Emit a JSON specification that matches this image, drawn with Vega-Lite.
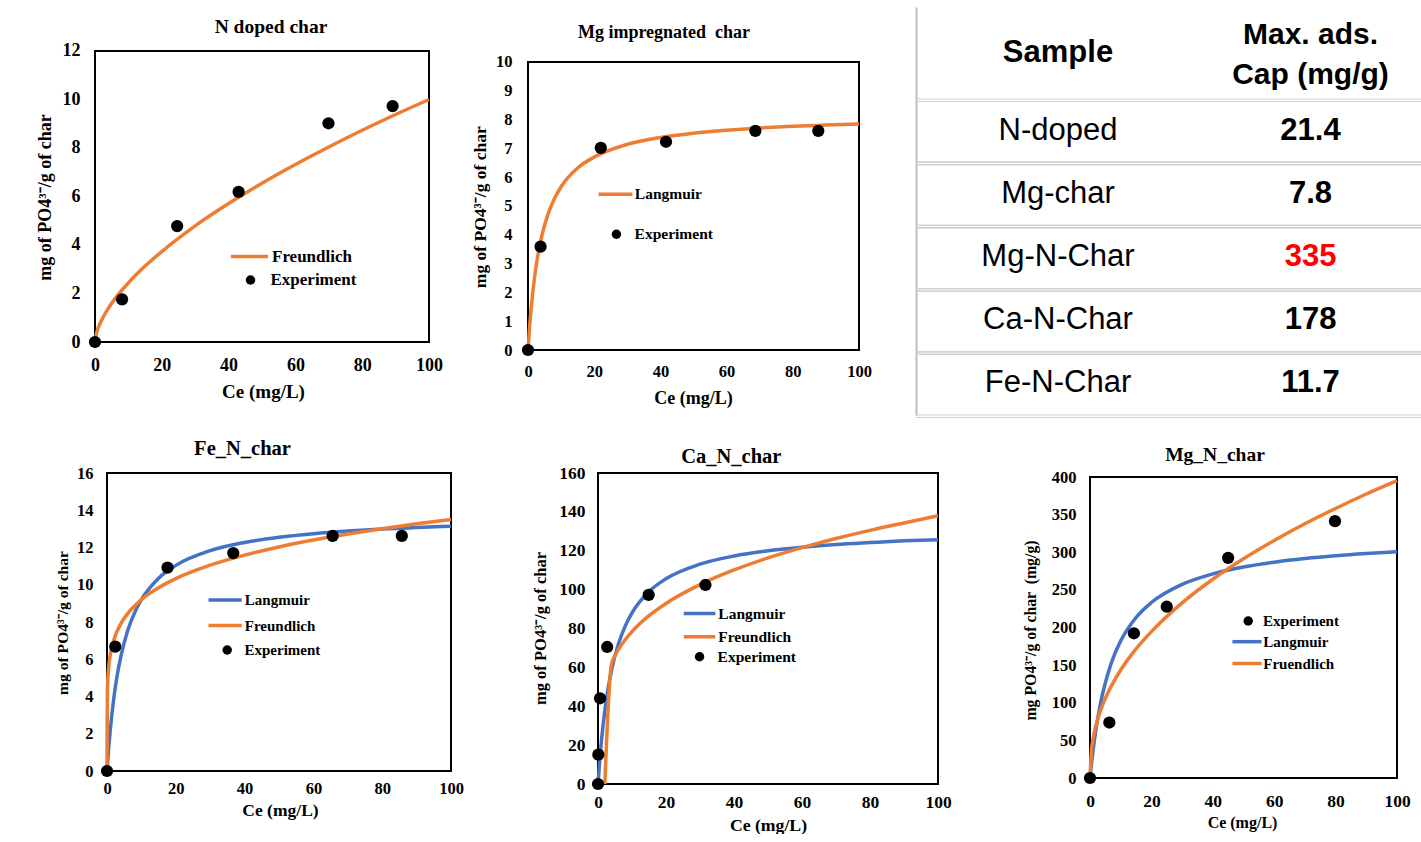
{
  "$schema": "https://vega.github.io/schema/vega-lite/v6.json",
  "background": "white",
  "padding": {"left": 0, "top": 7, "right": 0, "bottom": 0},
  "autosize": {"type": "pad"},
  "datasets": {
    "curves": [
      {"panel":"N","model":"Freundlich","Ce":0,"q":0},
      {"panel":"N","model":"Freundlich","Ce":0.5,"q":0.39},
      {"panel":"N","model":"Freundlich","Ce":1,"q":0.6},
      {"panel":"N","model":"Freundlich","Ce":2,"q":0.91},
      {"panel":"N","model":"Freundlich","Ce":4,"q":1.39},
      {"panel":"N","model":"Freundlich","Ce":6,"q":1.79},
      {"panel":"N","model":"Freundlich","Ce":10,"q":2.44},
      {"panel":"N","model":"Freundlich","Ce":15,"q":3.13},
      {"panel":"N","model":"Freundlich","Ce":20,"q":3.73},
      {"panel":"N","model":"Freundlich","Ce":30,"q":4.79},
      {"panel":"N","model":"Freundlich","Ce":40,"q":5.71},
      {"panel":"N","model":"Freundlich","Ce":50,"q":6.55},
      {"panel":"N","model":"Freundlich","Ce":60,"q":7.32},
      {"panel":"N","model":"Freundlich","Ce":70,"q":8.04},
      {"panel":"N","model":"Freundlich","Ce":80,"q":8.73},
      {"panel":"N","model":"Freundlich","Ce":90,"q":9.38},
      {"panel":"N","model":"Freundlich","Ce":100,"q":10.0},
      {"panel":"Mg","model":"Langmuir","Ce":0,"q":0},
      {"panel":"Mg","model":"Langmuir","Ce":0.5,"q":0.83},
      {"panel":"Mg","model":"Langmuir","Ce":1,"q":1.5},
      {"panel":"Mg","model":"Langmuir","Ce":2,"q":2.54},
      {"panel":"Mg","model":"Langmuir","Ce":3,"q":3.3},
      {"panel":"Mg","model":"Langmuir","Ce":4,"q":3.88},
      {"panel":"Mg","model":"Langmuir","Ce":6,"q":4.7},
      {"panel":"Mg","model":"Langmuir","Ce":8,"q":5.26},
      {"panel":"Mg","model":"Langmuir","Ce":10,"q":5.67},
      {"panel":"Mg","model":"Langmuir","Ce":15,"q":6.32},
      {"panel":"Mg","model":"Langmuir","Ce":20,"q":6.7},
      {"panel":"Mg","model":"Langmuir","Ce":30,"q":7.14},
      {"panel":"Mg","model":"Langmuir","Ce":40,"q":7.38},
      {"panel":"Mg","model":"Langmuir","Ce":50,"q":7.53},
      {"panel":"Mg","model":"Langmuir","Ce":60,"q":7.63},
      {"panel":"Mg","model":"Langmuir","Ce":70,"q":7.71},
      {"panel":"Mg","model":"Langmuir","Ce":80,"q":7.77},
      {"panel":"Mg","model":"Langmuir","Ce":90,"q":7.81},
      {"panel":"Mg","model":"Langmuir","Ce":100,"q":7.85},
      {"panel":"Fe","model":"Langmuir","Ce":0,"q":0},
      {"panel":"Fe","model":"Langmuir","Ce":0.5,"q":1.25},
      {"panel":"Fe","model":"Langmuir","Ce":1,"q":2.3},
      {"panel":"Fe","model":"Langmuir","Ce":2,"q":3.94},
      {"panel":"Fe","model":"Langmuir","Ce":3,"q":5.18},
      {"panel":"Fe","model":"Langmuir","Ce":4,"q":6.13},
      {"panel":"Fe","model":"Langmuir","Ce":6,"q":7.53},
      {"panel":"Fe","model":"Langmuir","Ce":8,"q":8.49},
      {"panel":"Fe","model":"Langmuir","Ce":10,"q":9.2},
      {"panel":"Fe","model":"Langmuir","Ce":15,"q":10.35},
      {"panel":"Fe","model":"Langmuir","Ce":20,"q":11.04},
      {"panel":"Fe","model":"Langmuir","Ce":30,"q":11.83},
      {"panel":"Fe","model":"Langmuir","Ce":40,"q":12.27},
      {"panel":"Fe","model":"Langmuir","Ce":50,"q":12.55},
      {"panel":"Fe","model":"Langmuir","Ce":60,"q":12.74},
      {"panel":"Fe","model":"Langmuir","Ce":70,"q":12.88},
      {"panel":"Fe","model":"Langmuir","Ce":80,"q":12.99},
      {"panel":"Fe","model":"Langmuir","Ce":90,"q":13.07},
      {"panel":"Fe","model":"Langmuir","Ce":100,"q":13.14},
      {"panel":"Fe","model":"Freundlich","Ce":0,"q":0},
      {"panel":"Fe","model":"Freundlich","Ce":0.1,"q":4.28},
      {"panel":"Fe","model":"Freundlich","Ce":0.5,"q":5.59},
      {"panel":"Fe","model":"Freundlich","Ce":1,"q":6.27},
      {"panel":"Fe","model":"Freundlich","Ce":2,"q":7.04},
      {"panel":"Fe","model":"Freundlich","Ce":4,"q":7.9},
      {"panel":"Fe","model":"Freundlich","Ce":6,"q":8.45},
      {"panel":"Fe","model":"Freundlich","Ce":10,"q":9.2},
      {"panel":"Fe","model":"Freundlich","Ce":15,"q":9.84},
      {"panel":"Fe","model":"Freundlich","Ce":20,"q":10.33},
      {"panel":"Fe","model":"Freundlich","Ce":30,"q":11.05},
      {"panel":"Fe","model":"Freundlich","Ce":40,"q":11.59},
      {"panel":"Fe","model":"Freundlich","Ce":50,"q":12.03},
      {"panel":"Fe","model":"Freundlich","Ce":60,"q":12.4},
      {"panel":"Fe","model":"Freundlich","Ce":70,"q":12.72},
      {"panel":"Fe","model":"Freundlich","Ce":80,"q":13.01},
      {"panel":"Fe","model":"Freundlich","Ce":90,"q":13.27},
      {"panel":"Fe","model":"Freundlich","Ce":100,"q":13.5},
      {"panel":"Ca","model":"Langmuir","Ce":0,"q":0},
      {"panel":"Ca","model":"Langmuir","Ce":0.5,"q":12},
      {"panel":"Ca","model":"Langmuir","Ce":1,"q":22},
      {"panel":"Ca","model":"Langmuir","Ce":2,"q":37.7},
      {"panel":"Ca","model":"Langmuir","Ce":3,"q":49.5},
      {"panel":"Ca","model":"Langmuir","Ce":4,"q":58.7},
      {"panel":"Ca","model":"Langmuir","Ce":6,"q":72},
      {"panel":"Ca","model":"Langmuir","Ce":8,"q":81.2},
      {"panel":"Ca","model":"Langmuir","Ce":10,"q":88},
      {"panel":"Ca","model":"Langmuir","Ce":15,"q":99},
      {"panel":"Ca","model":"Langmuir","Ce":20,"q":105.6},
      {"panel":"Ca","model":"Langmuir","Ce":30,"q":113.1},
      {"panel":"Ca","model":"Langmuir","Ce":40,"q":117.3},
      {"panel":"Ca","model":"Langmuir","Ce":50,"q":120},
      {"panel":"Ca","model":"Langmuir","Ce":60,"q":121.8},
      {"panel":"Ca","model":"Langmuir","Ce":70,"q":123.2},
      {"panel":"Ca","model":"Langmuir","Ce":80,"q":124.2},
      {"panel":"Ca","model":"Langmuir","Ce":90,"q":125.1},
      {"panel":"Ca","model":"Langmuir","Ce":100,"q":125.7},
      {"panel":"Ca","model":"Freundlich","Ce":2,"q":0},
      {"panel":"Ca","model":"Freundlich","Ce":3.9,"q":61},
      {"panel":"Ca","model":"Freundlich","Ce":5,"q":66.1},
      {"panel":"Ca","model":"Freundlich","Ce":6,"q":69.2},
      {"panel":"Ca","model":"Freundlich","Ce":8,"q":74.2},
      {"panel":"Ca","model":"Freundlich","Ce":10,"q":78.4},
      {"panel":"Ca","model":"Freundlich","Ce":15,"q":86.6},
      {"panel":"Ca","model":"Freundlich","Ce":20,"q":92.9},
      {"panel":"Ca","model":"Freundlich","Ce":30,"q":102.6},
      {"panel":"Ca","model":"Freundlich","Ce":40,"q":110.1},
      {"panel":"Ca","model":"Freundlich","Ce":50,"q":116.3},
      {"panel":"Ca","model":"Freundlich","Ce":60,"q":121.6},
      {"panel":"Ca","model":"Freundlich","Ce":70,"q":126.3},
      {"panel":"Ca","model":"Freundlich","Ce":80,"q":130.5},
      {"panel":"Ca","model":"Freundlich","Ce":90,"q":134.3},
      {"panel":"Ca","model":"Freundlich","Ce":100,"q":138},
      {"panel":"MgN","model":"Langmuir","Ce":0,"q":0},
      {"panel":"MgN","model":"Langmuir","Ce":0.5,"q":19.6},
      {"panel":"MgN","model":"Langmuir","Ce":1,"q":36.9},
      {"panel":"MgN","model":"Langmuir","Ce":2,"q":66.2},
      {"panel":"MgN","model":"Langmuir","Ce":3,"q":90.1},
      {"panel":"MgN","model":"Langmuir","Ce":4,"q":110},
      {"panel":"MgN","model":"Langmuir","Ce":6,"q":141},
      {"panel":"MgN","model":"Langmuir","Ce":8,"q":164.2},
      {"panel":"MgN","model":"Langmuir","Ce":10,"q":182.2},
      {"panel":"MgN","model":"Langmuir","Ce":15,"q":213.3},
      {"panel":"MgN","model":"Langmuir","Ce":20,"q":233.2},
      {"panel":"MgN","model":"Langmuir","Ce":30,"q":257.3},
      {"panel":"MgN","model":"Langmuir","Ce":40,"q":271.2},
      {"panel":"MgN","model":"Langmuir","Ce":50,"q":280.4},
      {"panel":"MgN","model":"Langmuir","Ce":60,"q":286.8},
      {"panel":"MgN","model":"Langmuir","Ce":70,"q":291.6},
      {"panel":"MgN","model":"Langmuir","Ce":80,"q":295.3},
      {"panel":"MgN","model":"Langmuir","Ce":90,"q":298.2},
      {"panel":"MgN","model":"Langmuir","Ce":100,"q":300.6},
      {"panel":"MgN","model":"Fruendlich","Ce":0,"q":0},
      {"panel":"MgN","model":"Fruendlich","Ce":0.5,"q":38.4},
      {"panel":"MgN","model":"Fruendlich","Ce":1,"q":52.1},
      {"panel":"MgN","model":"Fruendlich","Ce":2,"q":70.7},
      {"panel":"MgN","model":"Fruendlich","Ce":4,"q":95.9},
      {"panel":"MgN","model":"Fruendlich","Ce":6,"q":114.6},
      {"panel":"MgN","model":"Fruendlich","Ce":10,"q":143.5},
      {"panel":"MgN","model":"Fruendlich","Ce":15,"q":171.5},
      {"panel":"MgN","model":"Fruendlich","Ce":20,"q":194.5},
      {"panel":"MgN","model":"Fruendlich","Ce":30,"q":232.7},
      {"panel":"MgN","model":"Fruendlich","Ce":40,"q":264.1},
      {"panel":"MgN","model":"Fruendlich","Ce":50,"q":291.3},
      {"panel":"MgN","model":"Fruendlich","Ce":60,"q":315.6},
      {"panel":"MgN","model":"Fruendlich","Ce":70,"q":337.8},
      {"panel":"MgN","model":"Fruendlich","Ce":80,"q":358.2},
      {"panel":"MgN","model":"Fruendlich","Ce":90,"q":377.4},
      {"panel":"MgN","model":"Fruendlich","Ce":100,"q":395.2}
    ],
    "experiment": [
      {"panel":"N","kind":"Experiment","Ce":0,"q":0},
      {"panel":"N","kind":"Experiment","Ce":8.1,"q":1.76},
      {"panel":"N","kind":"Experiment","Ce":24.6,"q":4.78},
      {"panel":"N","kind":"Experiment","Ce":43,"q":6.19},
      {"panel":"N","kind":"Experiment","Ce":69.9,"q":9.02},
      {"panel":"N","kind":"Experiment","Ce":89.1,"q":9.73},
      {"panel":"Mg","kind":"Experiment","Ce":0,"q":0},
      {"panel":"Mg","kind":"Experiment","Ce":3.8,"q":3.59},
      {"panel":"Mg","kind":"Experiment","Ce":22,"q":7.02},
      {"panel":"Mg","kind":"Experiment","Ce":41.7,"q":7.23},
      {"panel":"Mg","kind":"Experiment","Ce":68.7,"q":7.61},
      {"panel":"Mg","kind":"Experiment","Ce":87.7,"q":7.61},
      {"panel":"Fe","kind":"Experiment","Ce":0,"q":0},
      {"panel":"Fe","kind":"Experiment","Ce":2.4,"q":6.68},
      {"panel":"Fe","kind":"Experiment","Ce":17.6,"q":10.92},
      {"panel":"Fe","kind":"Experiment","Ce":36.7,"q":11.7},
      {"panel":"Fe","kind":"Experiment","Ce":65.6,"q":12.62},
      {"panel":"Fe","kind":"Experiment","Ce":85.7,"q":12.62},
      {"panel":"Ca","kind":"Experiment","Ce":0,"q":0},
      {"panel":"Ca","kind":"Experiment","Ce":0.1,"q":15.1},
      {"panel":"Ca","kind":"Experiment","Ce":0.6,"q":44.1},
      {"panel":"Ca","kind":"Experiment","Ce":2.7,"q":70.5},
      {"panel":"Ca","kind":"Experiment","Ce":14.9,"q":97.3},
      {"panel":"Ca","kind":"Experiment","Ce":31.6,"q":102.4},
      {"panel":"MgN","kind":"Experiment","Ce":0,"q":0},
      {"panel":"MgN","kind":"Experiment","Ce":6.3,"q":73.7},
      {"panel":"MgN","kind":"Experiment","Ce":14.3,"q":192.3},
      {"panel":"MgN","kind":"Experiment","Ce":25,"q":227.6},
      {"panel":"MgN","kind":"Experiment","Ce":45,"q":292.6},
      {"panel":"MgN","kind":"Experiment","Ce":79.8,"q":341.3}
    ],
    "table": [
      {"sample":"N-doped","cap":21.4},
      {"sample":"Mg-char","cap":7.8},
      {"sample":"Mg-N-Char","cap":335},
      {"sample":"Ca-N-Char","cap":178},
      {"sample":"Fe-N-Char","cap":11.7}
    ]
  },
  "columns": 3,
  "spacing": {"row": 58, "column": 0},
  "bounds": "flush",
  "align": "each",
  "concat": [
    {
      "width": 528, "height": 335,
      "title": {"text": "N doped char", "frame": "group", "dx": 7, "offset": -30.5, "fontSize": 19.5},
      "layer": [
        {
          "data": {"values": [{}]},
          "mark": {"type": "rect", "filled": false, "color": "#000", "strokeWidth": 2},
          "encoding": {
            "x": {"datum": 0, "type": "quantitative"}, "x2": {"datum": 100},
            "y": {"datum": 0, "type": "quantitative"}, "y2": {"datum": 12}
          }
        },
        {
          "data": {"name": "curves"},
          "transform": [{"filter": "datum.panel === 'N'"}],
          "mark": {"type": "line", "strokeWidth": 3.5, "interpolate": "monotone"},
          "encoding": {
            "x": {"field": "Ce", "type": "quantitative", "scale": {"domain": [-28.443, 129.641], "nice": false, "zero": false},
                  "axis": {"values": [0,20,40,60,80,100], "tickCount": 6, "labelFontSize": 18, "labelPadding": 14, "title": "Ce (mg/L)", "titleFontSize": 19, "titleX": 263, "titleY": 49, "titleBaseline": "middle"}},
            "y": {"field": "q", "type": "quantitative", "scale": {"domain": [0, 13.8144], "nice": false, "zero": false},
                  "axis": {"values": [0,2,4,6,8,10,12], "tickCount": 7, "offset": -95, "labelFontSize": 18, "labelPadding": 15, "title": "mg of PO4³⁻/g of char", "titleFontSize": 18, "titleX": -50, "titleY": 190, "titleBaseline": "middle"}},
            "color": {"field": "model", "type": "nominal", "scale": {"domain": ["Freundlich"], "range": ["#ED7D31"]},
                      "legend": {"title": null, "orient": "none", "legendX": 241, "legendY": 241, "symbolType": "M-5,0H5", "symbolSize": 55, "symbolStrokeWidth": 3.5, "labelOffset": 14, "labelFontSize": 17}}
          }
        },
        {
          "data": {"name": "experiment"},
          "transform": [{"filter": "datum.panel === 'N'"}],
          "mark": {"type": "point", "filled": true, "size": 150, "color": "#000", "opacity": 1},
          "encoding": {
            "x": {"field": "Ce", "type": "quantitative"},
            "y": {"field": "q", "type": "quantitative"},
            "shape": {"field": "kind", "type": "nominal", "scale": {"domain": ["Experiment"], "range": ["circle"]},
                      "legend": {"title": null, "orient": "none", "legendX": 242, "legendY": 264.5, "symbolSize": 90, "labelOffset": 11.5, "labelFontSize": 17}}
          }
        }
      ]
    },
    {
      "width": 331, "height": 343,
      "title": {"text": "Mg impregnated \u00a0char", "frame": "group", "dx": -29.5, "offset": -35, "fontSize": 18},
      "layer": [
        {
          "data": {"values": [{}]},
          "mark": {"type": "rect", "filled": false, "color": "#000", "strokeWidth": 2},
          "encoding": {
            "x": {"datum": 0, "type": "quantitative"}, "x2": {"datum": 100},
            "y": {"datum": 0, "type": "quantitative"}, "y2": {"datum": 10}
          }
        },
        {
          "data": {"name": "curves"},
          "transform": [{"filter": "datum.panel === 'Mg'"}],
          "mark": {"type": "line", "strokeWidth": 3.5, "interpolate": "monotone"},
          "encoding": {
            "x": {"field": "Ce", "type": "quantitative", "scale": {"domain": [0, 100], "nice": false, "zero": false},
                  "axis": {"values": [0,20,40,60,80,100], "tickCount": 6, "labelFontSize": 16.5, "labelPadding": 13, "title": "Ce (mg/L)", "titleFontSize": 18, "titleX": 165, "titleY": 48, "titleBaseline": "middle"}},
            "y": {"field": "q", "type": "quantitative", "scale": {"domain": [0, 11.9097], "nice": false, "zero": false},
                  "axis": {"values": [0,1,2,3,4,5,6,7,8,9,10], "tickCount": 11, "labelFontSize": 16.5, "labelPadding": 16, "title": "mg of PO4³⁻/g of char", "titleFontSize": 17.5, "titleX": -48, "titleY": 199.7, "titleBaseline": "middle"}},
            "color": {"field": "model", "type": "nominal", "scale": {"domain": ["Langmuir"], "range": ["#ED7D31"]},
                      "legend": {"title": null, "orient": "none", "legendX": 79.7, "legendY": 179.5, "symbolType": "M-5,0H5", "symbolSize": 46, "symbolStrokeWidth": 3.5, "labelOffset": 11.6, "labelFontSize": 15.5}}
          }
        },
        {
          "data": {"name": "experiment"},
          "transform": [{"filter": "datum.panel === 'Mg'"}],
          "mark": {"type": "point", "filled": true, "size": 150, "color": "#000", "opacity": 1},
          "encoding": {
            "x": {"field": "Ce", "type": "quantitative"},
            "y": {"field": "q", "type": "quantitative"},
            "shape": {"field": "kind", "type": "nominal", "scale": {"domain": ["Experiment"], "range": ["circle"]},
                      "legend": {"title": null, "orient": "none", "legendX": 80.7, "legendY": 219.5, "symbolSize": 90, "labelOffset": 10.4, "labelFontSize": 15.5}}
          }
        }
      ]
    },
    {
      "width": 505, "height": 408,
      "resolve": {"scale": {"y": "independent"}},
      "layer": [
        {
          "data": {"values": [{"col": "Sample", "head": "Sample"}]},
          "mark": {"type": "text", "font": "Liberation Sans", "fontSize": 31, "fontWeight": "bold", "color": "#000"},
          "encoding": {
            "x": {"field": "col", "type": "nominal", "scale": {"type": "band", "domain": ["Sample", "Cap"], "paddingInner": 0.1248, "paddingOuter": 0.0624, "align": 1}, "axis": null},
            "y": {"field": "col", "type": "nominal", "scale": {"type": "point", "domain": ["Sample"], "align": 0.1127}, "axis": null},
            "text": {"field": "head"}
          }
        },
        {
          "data": {"values": [{"col": "Cap", "head": "Max. ads.\nCap (mg/g)"}]},
          "mark": {"type": "text", "font": "Liberation Sans", "fontSize": 30, "fontWeight": "bold", "color": "#000", "lineBreak": "\n", "lineHeight": 40},
          "encoding": {
            "x": {"field": "col", "type": "nominal"},
            "y": {"field": "col", "type": "nominal", "scale": {"type": "point", "domain": ["Cap"], "align": 0.0686}, "axis": null},
            "text": {"field": "head"}
          }
        },
        {
          "data": {"name": "table"},
          "layer": [
            {"mark": {"type": "rule", "color": "#d0d0d0", "strokeWidth": 1.2},
             "encoding": {"y": {"field": "sample", "type": "nominal", "bandPosition": 0,
               "scale": {"type": "band", "domain": ["N-doped","Mg-char","Mg-N-Char","Ca-N-Char","Fe-N-Char"], "paddingInner": 0, "paddingOuter": 0.7278, "align": 1},
               "axis": {"orient": "left", "labels": false, "ticks": false, "domain": true, "domainColor": "#bdbdbd", "domainWidth": 2, "title": null}}}},
            {"mark": {"type": "rule", "color": "#d0d0d0", "strokeWidth": 1.2, "yOffset": 2.5},
             "encoding": {"y": {"field": "sample", "type": "nominal", "bandPosition": 0,
               "axis": {"orient": "left", "labels": false, "ticks": false, "domain": true, "domainColor": "#bdbdbd", "domainWidth": 2, "title": null}}}},
            {"mark": {"type": "rule", "color": "#d0d0d0", "strokeWidth": 1.2},
             "encoding": {"y": {"field": "sample", "type": "nominal", "bandPosition": 1,
               "axis": {"orient": "left", "labels": false, "ticks": false, "domain": true, "domainColor": "#bdbdbd", "domainWidth": 2, "title": null}}}},
            {"mark": {"type": "rule", "color": "#d0d0d0", "strokeWidth": 1.2, "yOffset": 2.5},
             "encoding": {"y": {"field": "sample", "type": "nominal", "bandPosition": 1,
               "axis": {"orient": "left", "labels": false, "ticks": false, "domain": true, "domainColor": "#bdbdbd", "domainWidth": 2, "title": null}}}},
            {"mark": {"type": "text", "font": "Liberation Sans", "fontSize": 31, "color": "#000"},
             "encoding": {
               "x": {"datum": "Sample", "type": "nominal"},
               "y": {"field": "sample", "type": "nominal",
                     "axis": {"orient": "left", "labels": false, "ticks": false, "domain": true, "domainColor": "#bdbdbd", "domainWidth": 2, "title": null}},
               "text": {"field": "sample"}
             }},
            {"mark": {"type": "text", "font": "Liberation Sans", "fontSize": 31, "fontWeight": "bold"},
             "encoding": {
               "x": {"datum": "Cap", "type": "nominal"},
               "y": {"field": "sample", "type": "nominal",
                     "axis": {"orient": "left", "labels": false, "ticks": false, "domain": true, "domainColor": "#bdbdbd", "domainWidth": 2, "title": null}},
               "text": {"field": "cap", "type": "quantitative", "format": "~g"},
               "color": {"condition": {"test": "datum.sample === 'Mg-N-Char'", "value": "#ff0000"}, "value": "#000000"}
             }}
          ]
        }
      ]
    },
    {
      "width": 451, "height": 298,
      "title": {"text": "Fe_N_char", "frame": "group", "dx": 17, "offset": 6, "fontSize": 20.5},
      "layer": [
        {
          "data": {"values": [{}]},
          "mark": {"type": "rect", "filled": false, "color": "#000", "strokeWidth": 2},
          "encoding": {
            "x": {"datum": 0, "type": "quantitative"}, "x2": {"datum": 100},
            "y": {"datum": 0, "type": "quantitative"}, "y2": {"datum": 16}
          }
        },
        {
          "data": {"name": "curves"},
          "transform": [{"filter": "datum.panel === 'Fe'"}],
          "mark": {"type": "line", "strokeWidth": 3.5, "interpolate": "monotone"},
          "encoding": {
            "x": {"field": "Ce", "type": "quantitative", "scale": {"domain": [-31.105, 100], "nice": false, "zero": false},
                  "axis": {"values": [0,20,40,60,80,100], "tickCount": 6, "labelFontSize": 16.5, "labelPadding": 9, "title": "Ce (mg/L)", "titleFontSize": 17.5, "titleX": 280, "titleY": 39, "titleBaseline": "middle"}},
            "y": {"field": "q", "type": "quantitative", "scale": {"domain": [0, 16], "nice": false, "zero": false},
                  "axis": {"values": [0,2,4,6,8,10,12,14,16], "tickCount": 9, "offset": -107, "labelFontSize": 16.5, "labelPadding": 14, "title": "mg of PO4³⁻/g of char", "titleFontSize": 15.6, "titleX": -45, "titleY": 149.5, "titleBaseline": "middle"}},
            "color": {"field": "model", "type": "nominal", "scale": {"domain": ["Langmuir", "Freundlich"], "range": ["#4472C4", "#ED7D31"]},
                      "legend": {"title": null, "orient": "none", "legendX": 217.6, "legendY": 119.5, "symbolType": "M-5,0H5", "symbolSize": 44, "symbolStrokeWidth": 3.5, "labelOffset": 12.2, "labelFontSize": 15, "rowPadding": 9.5}}
          }
        },
        {
          "data": {"name": "experiment"},
          "transform": [{"filter": "datum.panel === 'Fe'"}],
          "mark": {"type": "point", "filled": true, "size": 150, "color": "#000", "opacity": 1},
          "encoding": {
            "x": {"field": "Ce", "type": "quantitative"},
            "y": {"field": "q", "type": "quantitative"},
            "shape": {"field": "kind", "type": "nominal", "scale": {"domain": ["Experiment"], "range": ["circle"]},
                      "legend": {"title": null, "orient": "none", "legendX": 219.7, "legendY": 169.5, "symbolSize": 90, "labelOffset": 9.8, "labelFontSize": 15}}
          }
        }
      ]
    },
    {
      "width": 388, "height": 311,
      "title": {"text": "Ca_N_char", "frame": "group", "dx": 9.3, "offset": -3.5, "fontSize": 20.5},
      "layer": [
        {
          "data": {"values": [{}]},
          "mark": {"type": "rect", "filled": false, "color": "#000", "strokeWidth": 2},
          "encoding": {
            "x": {"datum": 0, "type": "quantitative"}, "x2": {"datum": 100},
            "y": {"datum": 0, "type": "quantitative"}, "y2": {"datum": 160}
          }
        },
        {
          "data": {"name": "curves"},
          "transform": [{"filter": "datum.panel === 'Ca'"}],
          "mark": {"type": "line", "strokeWidth": 3.5, "interpolate": "monotone"},
          "encoding": {
            "x": {"field": "Ce", "type": "quantitative", "scale": {"domain": [0, 100], "range": [70, 410], "nice": false, "zero": false},
                  "axis": {"values": [0,20,40,60,80,100], "tickCount": 6, "labelFontSize": 17.5, "labelPadding": 9, "title": "Ce (mg/L)", "titleFontSize": 17.7, "titleX": 240, "titleY": 41, "titleBaseline": "middle"}},
            "y": {"field": "q", "type": "quantitative", "scale": {"domain": [0, 160], "nice": false, "zero": false},
                  "axis": {"values": [0,20,40,60,80,100,120,140,160], "tickCount": 9, "offset": -70, "labelFontSize": 17.5, "labelPadding": 13, "title": "mg of PO4³⁻/g of char", "titleFontSize": 16.5, "titleX": -58, "titleY": 155, "titleBaseline": "middle"}},
            "color": {"field": "model", "type": "nominal", "scale": {"domain": ["Langmuir", "Freundlich"], "range": ["#4472C4", "#ED7D31"]},
                      "legend": {"title": null, "orient": "none", "legendX": 163.8, "legendY": 132.8, "symbolType": "M-5,0H5", "symbolSize": 40, "symbolStrokeWidth": 3.5, "labelOffset": 11, "labelFontSize": 15.5, "rowPadding": 6.2}}
          }
        },
        {
          "data": {"name": "experiment"},
          "transform": [{"filter": "datum.panel === 'Ca'"}],
          "mark": {"type": "point", "filled": true, "size": 150, "color": "#000", "opacity": 1},
          "encoding": {
            "x": {"field": "Ce", "type": "quantitative"},
            "y": {"field": "q", "type": "quantitative"},
            "shape": {"field": "kind", "type": "nominal", "scale": {"domain": ["Experiment"], "range": ["circle"]},
                      "legend": {"title": null, "orient": "none", "legendX": 163.8, "legendY": 176, "symbolSize": 90, "labelOffset": 10.3, "labelFontSize": 15.5}}
          }
        }
      ]
    },
    {
      "width": 481, "height": 305,
      "title": {"text": "Mg_N_char", "frame": "group", "dx": 58.5, "offset": 3.5, "fontSize": 19.5},
      "layer": [
        {
          "data": {"values": [{}]},
          "mark": {"type": "rect", "filled": false, "color": "#000", "strokeWidth": 2},
          "encoding": {
            "x": {"datum": 0, "type": "quantitative"}, "x2": {"datum": 100},
            "y": {"datum": 0, "type": "quantitative"}, "y2": {"datum": 400}
          }
        },
        {
          "data": {"name": "curves"},
          "transform": [{"filter": "datum.panel === 'MgN'"}],
          "mark": {"type": "line", "strokeWidth": 3.5, "interpolate": "monotone"},
          "encoding": {
            "x": {"field": "Ce", "type": "quantitative", "scale": {"domain": [-56.678, 100], "nice": false, "zero": false},
                  "axis": {"values": [0,20,40,60,80,100], "tickCount": 6, "labelFontSize": 17.5, "labelPadding": 14, "title": "Ce (mg/L)", "titleFontSize": 16, "titleX": 326, "titleY": 44, "titleBaseline": "middle"}},
            "y": {"field": "q", "type": "quantitative", "scale": {"domain": [0, 405.316], "nice": false, "zero": false},
                  "axis": {"values": [0,50,100,150,200,250,300,350,400], "tickCount": 9, "offset": -174, "labelFontSize": 16.5, "labelPadding": 14, "title": "mg PO4³⁻/g of char \u00a0(mg/g)", "titleFontSize": 15.8, "titleX": -60, "titleY": 157, "titleBaseline": "middle"}},
            "color": {"field": "model", "type": "nominal", "scale": {"domain": ["Langmuir", "Fruendlich"], "range": ["#4472C4", "#ED7D31"]},
                      "legend": {"title": null, "orient": "none", "legendX": 323.5, "legendY": 161.2, "symbolType": "M-5,0H5", "symbolSize": 34, "symbolStrokeWidth": 3.5, "labelOffset": 8.8, "labelFontSize": 15, "rowPadding": 5.8}}
          }
        },
        {
          "data": {"name": "experiment"},
          "transform": [{"filter": "datum.panel === 'MgN'"}],
          "mark": {"type": "point", "filled": true, "size": 150, "color": "#000", "opacity": 1},
          "encoding": {
            "x": {"field": "Ce", "type": "quantitative"},
            "y": {"field": "q", "type": "quantitative"},
            "shape": {"field": "kind", "type": "nominal", "scale": {"domain": ["Experiment"], "range": ["circle"]},
                      "legend": {"title": null, "orient": "none", "legendX": 324.7, "legendY": 140.5, "symbolSize": 90, "labelOffset": 7.4, "labelFontSize": 15}}
          }
        }
      ]
    }
  ],
  "resolve": {
    "scale": {"color": "independent", "shape": "independent"},
    "legend": {"color": "independent", "shape": "independent"}
  },
  "config": {
    "view": {"stroke": null},
    "font": "Liberation Serif",
    "axis": {
      "labelFont": "Liberation Serif", "labelFontWeight": "bold", "labelColor": "#000",
      "titleFont": "Liberation Serif", "titleFontWeight": "bold", "titleColor": "#000",
      "ticks": false, "domain": false, "grid": false,
      "labelFlush": false, "labelOverlap": false
    },
    "legend": {
      "labelFont": "Liberation Serif", "labelFontWeight": "bold", "labelColor": "#000",
      "padding": 0, "labelLimit": 300
    },
    "title": {"font": "Liberation Serif", "fontWeight": "bold", "color": "#000", "anchor": "middle"}
  }
}
